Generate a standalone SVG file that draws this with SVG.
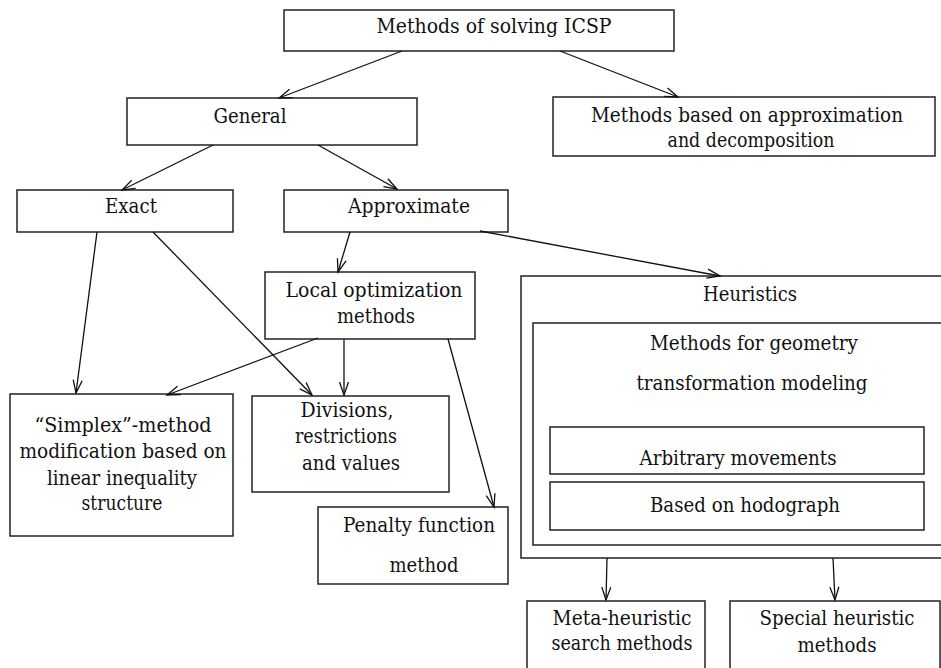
<svg xmlns="http://www.w3.org/2000/svg" width="941" height="668" viewBox="0 0 941 668">
<style>
.box{fill:#fff;stroke:#222;stroke-width:1.5}
text{font-family:"DejaVu Serif","Liberation Serif",serif;font-size:20px;fill:#111;text-anchor:middle}
.c{stroke:#111;stroke-width:1.3;fill:none}
</style>
<defs>
<marker id="ah" markerUnits="userSpaceOnUse" markerWidth="16" markerHeight="12" viewBox="-14 -6 16 12" refX="0" refY="0" orient="auto">
<path d="M-13,-4.5 L0,0 L-13,4.5" fill="none" stroke="#111" stroke-width="1.3"/>
</marker>
</defs>
<rect width="941" height="668" fill="#fff"/>
<g id="n-root"><rect class="box" x="284" y="10" width="390" height="41"/><text x="494" y="33" textLength="235" lengthAdjust="spacingAndGlyphs">Methods of solving ICSP</text></g>
<g id="n-general"><rect class="box" x="127" y="98" width="290" height="47"/><text x="250" y="123" textLength="73" lengthAdjust="spacingAndGlyphs">General</text></g>
<g id="n-approxdecomp"><rect class="box" x="553" y="97" width="382" height="59"/><text x="747" y="122" textLength="312" lengthAdjust="spacingAndGlyphs">Methods based on approximation</text><text x="751" y="147" textLength="167" lengthAdjust="spacingAndGlyphs">and decomposition</text></g>
<g id="n-exact"><rect class="box" x="17" y="190" width="216" height="42"/><text x="131" y="213" textLength="52" lengthAdjust="spacingAndGlyphs">Exact</text></g>
<g id="n-approximate"><rect class="box" x="284" y="190" width="224" height="42"/><text x="409" y="213" textLength="122" lengthAdjust="spacingAndGlyphs">Approximate</text></g>
<g id="n-local"><rect class="box" x="265" y="272" width="210" height="67"/><text x="374" y="297" textLength="177" lengthAdjust="spacingAndGlyphs">Local optimization</text><text x="376" y="323" textLength="78" lengthAdjust="spacingAndGlyphs">methods</text></g>
<g id="n-heuristics"><rect class="box" x="521" y="276" width="430" height="282"/><text x="750" y="301" textLength="94" lengthAdjust="spacingAndGlyphs">Heuristics</text></g>
<g id="n-geom"><rect class="box" x="533" y="323" width="418" height="222"/><text x="754" y="350" textLength="208" lengthAdjust="spacingAndGlyphs">Methods for geometry</text><text x="752" y="390" textLength="231" lengthAdjust="spacingAndGlyphs">transformation modeling</text></g>
<g id="n-arbitrary"><rect class="box" x="550" y="427" width="374" height="47"/><text x="738" y="465" textLength="197" lengthAdjust="spacingAndGlyphs">Arbitrary movements</text></g>
<g id="n-hodograph"><rect class="box" x="550" y="482" width="374" height="48"/><text x="745" y="512" textLength="190" lengthAdjust="spacingAndGlyphs">Based on hodograph</text></g>
<g id="n-simplex"><rect class="box" x="10" y="394" width="223" height="142"/><text x="123" y="432" textLength="177" lengthAdjust="spacingAndGlyphs">“Simplex”-method</text><text x="123" y="458" textLength="207" lengthAdjust="spacingAndGlyphs">modification based on</text><text x="122" y="485" textLength="150" lengthAdjust="spacingAndGlyphs">linear inequality</text><text x="122" y="510" textLength="81" lengthAdjust="spacingAndGlyphs">structure</text></g>
<g id="n-divisions"><rect class="box" x="252" y="396" width="197" height="96"/><text x="347" y="417" textLength="93" lengthAdjust="spacingAndGlyphs">Divisions,</text><text x="346" y="443" textLength="102" lengthAdjust="spacingAndGlyphs">restrictions</text><text x="351" y="470" textLength="98" lengthAdjust="spacingAndGlyphs">and values</text></g>
<g id="n-penalty"><rect class="box" x="318" y="507" width="190" height="77"/><text x="419" y="532" textLength="152" lengthAdjust="spacingAndGlyphs">Penalty function</text><text x="424" y="572" textLength="69" lengthAdjust="spacingAndGlyphs">method</text></g>
<g id="n-meta"><rect class="box" x="527" y="601" width="178" height="80"/><text x="622" y="625" textLength="139" lengthAdjust="spacingAndGlyphs">Meta-heuristic</text><text x="622" y="650" textLength="141" lengthAdjust="spacingAndGlyphs">search methods</text></g>
<g id="n-special"><rect class="box" x="730" y="601" width="210" height="80"/><text x="837" y="625" textLength="155" lengthAdjust="spacingAndGlyphs">Special heuristic</text><text x="837" y="652" textLength="79" lengthAdjust="spacingAndGlyphs">methods</text></g>
<g id="connectors" class="c">
<line x1="402" y1="51" x2="279" y2="98" marker-end="url(#ah)"/>
<line x1="560" y1="51" x2="678" y2="97" marker-end="url(#ah)"/>
<line x1="213" y1="145" x2="122" y2="190" marker-end="url(#ah)"/>
<line x1="318" y1="145" x2="397" y2="189" marker-end="url(#ah)"/>
<line x1="350" y1="232" x2="338" y2="272" marker-end="url(#ah)"/>
<line x1="480" y1="231" x2="720" y2="276" marker-end="url(#ah)"/>
<line x1="97" y1="232" x2="76" y2="393" marker-end="url(#ah)"/>
<line x1="153" y1="232" x2="312" y2="395" marker-end="url(#ah)"/>
<line x1="318" y1="338" x2="167" y2="395" marker-end="url(#ah)"/>
<line x1="344" y1="339" x2="344" y2="395" marker-end="url(#ah)"/>
<line x1="448" y1="339" x2="494" y2="507" marker-end="url(#ah)"/>
<line x1="607" y1="558" x2="606" y2="600" marker-end="url(#ah)"/>
<line x1="833" y1="558" x2="835" y2="600" marker-end="url(#ah)"/>
</g>
</svg>
